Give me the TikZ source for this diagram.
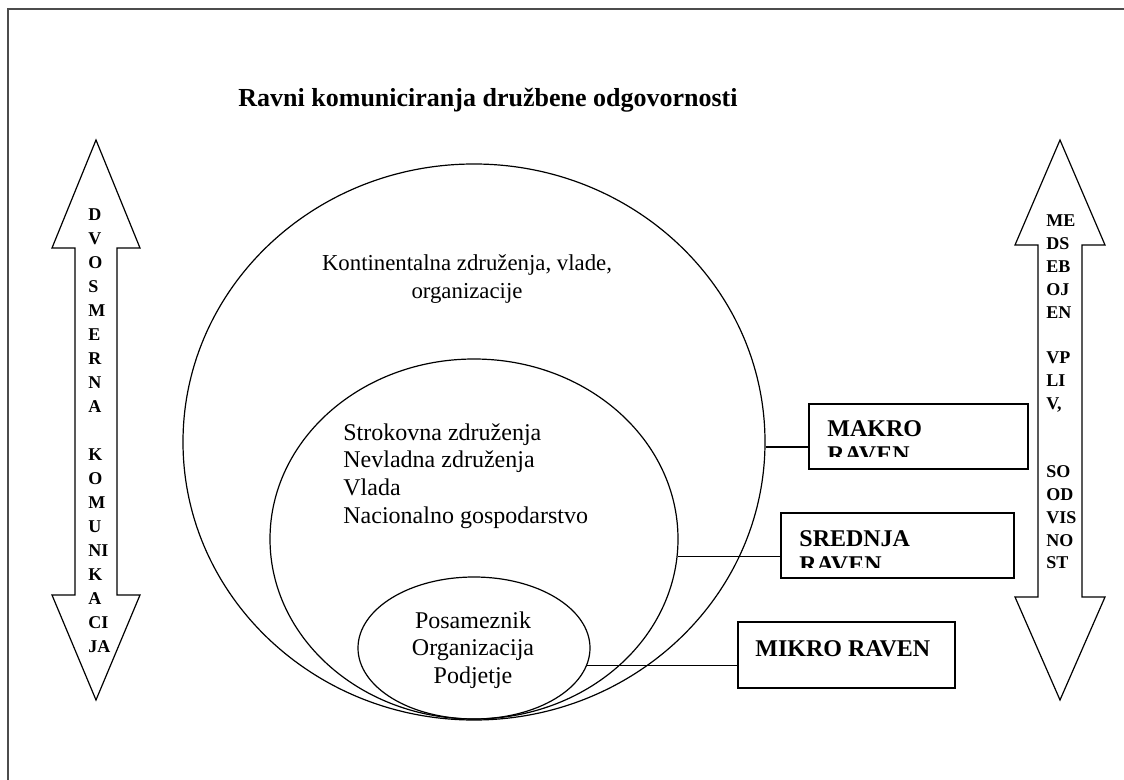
\documentclass[tikz,border=0pt]{standalone}
\usepackage{fontspec}
\setmainfont{Liberation Serif}
\usetikzlibrary{shapes.geometric}

\begin{document}
\begin{tikzpicture}[x=0.5pt,y=-0.5pt,
  ring/.style={draw,ellipse,line width=0.6pt,inner sep=0pt},
  levelbox/.style={draw,line width=1pt,inner sep=0pt},
  levelname/.style={font=\bfseries\fontsize{12}{13}\selectfont,inner sep=0pt,align=left},
  body/.style={font=\fontsize{12}{13.85}\selectfont,inner sep=0pt},
  letters/.style={font=\bfseries\fontsize{9}{12}\selectfont,inner sep=0pt,align=left}]
\useasboundingbox (0,0) rectangle (1124,780);

\draw[line width=0.8pt,black!70] (8,780) -- (8,9) -- (1124,9);

\node[font=\bfseries\fontsize{13}{15}\selectfont] (title) at (488,100) {Ravni komuniciranja družbene odgovornosti};

% two-way arrows
\draw[line width=0.6pt] (96,140) -- (140,248) -- (117,248) -- (117,595) -- (140,595) -- (96,700)
  -- (52,595) -- (75,595) -- (75,248) -- (52,248) -- cycle;
\draw[line width=0.6pt] (1060,140) -- (1105,245) -- (1082,245) -- (1082,597) -- (1105,597) -- (1060,700)
  -- (1015,597) -- (1038,597) -- (1038,245) -- (1015,245) -- cycle;
\node[letters,anchor=west] (leftword) at (88,431) {D\\V\\O\\S\\M\\E\\R\\N\\A\\~\\K\\O\\M\\U\\NI\\K\\A\\CI\\JA};
\node[letters,anchor=west,font=\bfseries\fontsize{9}{11.4}\selectfont] (rightword) at (1046,392) {ME\\DS\\EB\\OJ\\EN\\~\\VP\\LI\\V,\\~\\~\\SO\\OD\\VIS\\NO\\ST};

% levels
\node[ring,minimum width=291pt,minimum height=278pt] (makro) at (474,442) {};
\node[ring,minimum width=204pt,minimum height=180pt] (srednja) at (474,539) {};
\node[ring,minimum width=116pt,minimum height=71pt] (mikro) at (474,648) {};

\node[body,align=center,font=\fontsize{11.4}{13.85}\selectfont] (makrotext) at (467,279) {Kontinentalna združenja, vlade,\\organizacije};
\node[body,align=left,anchor=west] (srednjatext) at (343,476) {Strokovna združenja\\Nevladna združenja\\Vlada\\Nacionalno gospodarstvo};
\node[body,align=center] (mikrotext) at (473,650) {Posameznik\\Organizacija\\Podjetje};

\node[levelbox,minimum width=109.5pt,minimum height=32.5pt] (makrobox) at (918.5,436.5) {};
\node[levelbox,minimum width=116.5pt,minimum height=32.5pt] (srednjabox) at (897.5,545.5) {};
\node[levelbox,minimum width=108.5pt,minimum height=33pt] (mikrobox) at (846.5,655) {};

\begin{scope}
\clip (makrobox.north west) rectangle ([yshift=7pt]makrobox.south east);
\node[levelname,anchor=north west] (makroname) at (827,420) {MAKRO\\RAVEN};
\end{scope}
\begin{scope}
\clip (srednjabox.north west) rectangle ([yshift=6pt]srednjabox.south east);
\node[levelname,anchor=north west] (srednjaname) at (799,530) {SREDNJA\\RAVEN};
\end{scope}
\node[levelname,anchor=base west] (mikroname) at (755,656) {MIKRO RAVEN};

\draw[line width=0.6pt] (makro.-1) -- (makro.-1 -| makrobox.west);
\draw[line width=0.6pt] (srednja.-5) -- (srednja.-5 -| srednjabox.west);
\draw[line width=0.6pt] (mikro.-9) -- (mikro.-9 -| mikrobox.west);
\end{tikzpicture}
\end{document}
